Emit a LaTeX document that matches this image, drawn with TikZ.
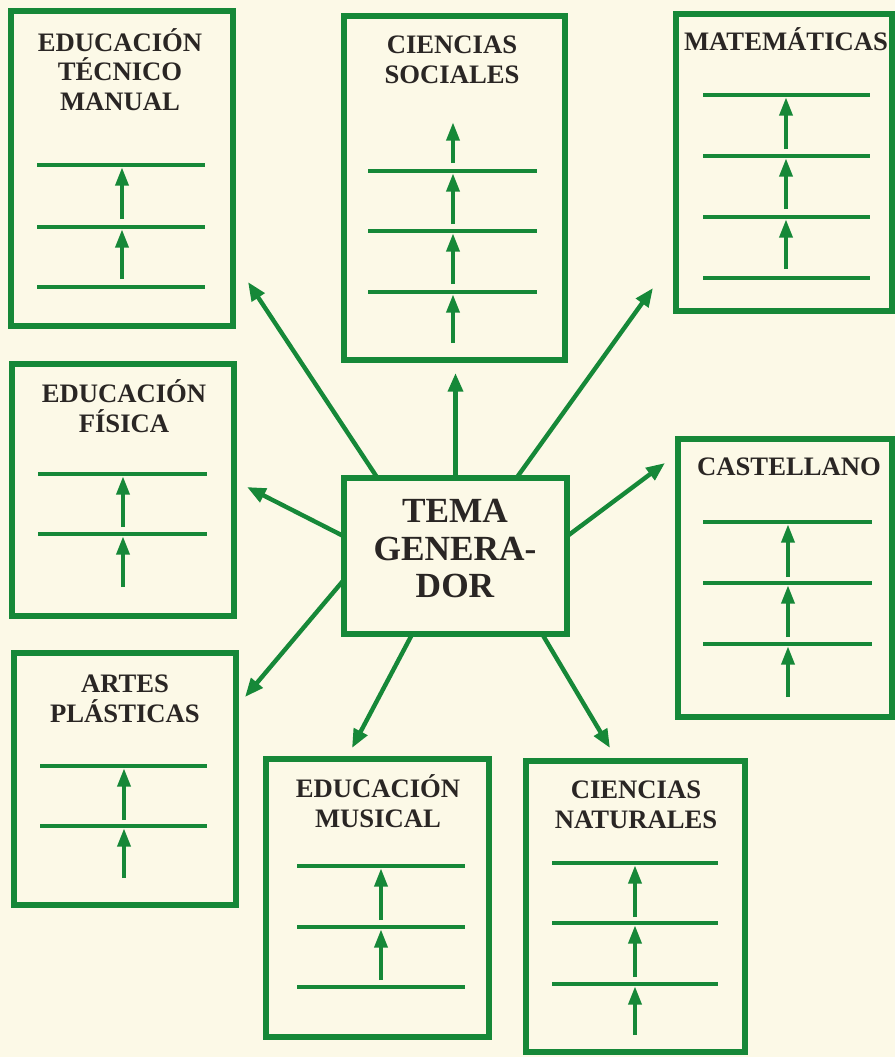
\documentclass[tikz,border=0pt]{standalone}
\usepackage{fontspec}
\setmainfont{Liberation Serif}
\usetikzlibrary{arrows.meta}
\definecolor{grn}{RGB}{22,136,56}
\definecolor{paper}{RGB}{252,249,231}
\definecolor{ink}{RGB}{42,38,36}
\newcommand\mybox[5]{\node[subj, minimum width={(#4-#2)*0.75pt}, minimum height={(#5-#3)*0.75pt}] (#1) at ({(#2+#4)/2},{(#3+#5)/2}) {};}
\newcommand\myrung[3]{\draw[rungline] (#1,#3) -- (#2,#3);}
\newcommand\myup[3]{\draw[uparrow] (#1,#2) -- (#1,#3);}
\begin{document}
\begin{tikzpicture}[x=0.75pt,y=-0.75pt,
  subj/.style={draw=grn, line width=3.8pt, inner sep=0pt, outer sep=0pt},
  rungline/.style={draw=grn, line width=3.3pt},
  uparrow/.style={draw=grn, line width=3.3pt, -{Triangle[length=14pt,width=9.5pt]}},
  link/.style={draw=grn, line width=3.3pt, -{Triangle[length=14pt,width=11pt]}},
  ttl/.style={font=\fontsize{20}{22}\selectfont\bfseries, text=ink, anchor=base, inner sep=0pt},
  big/.style={font=\fontsize{26.5}{28}\selectfont\bfseries, text=ink, anchor=base, inner sep=0pt}]
\fill[paper] (0,0) rectangle (895,1057);
\useasboundingbox (0,0) rectangle (895,1057);

% boxes
\mybox{tm}{11}{11}{233}{326}
\mybox{cs}{344}{16}{565}{360}
\mybox{mat}{676}{14}{892}{311}
\mybox{ef}{12}{364}{234}{616}
\mybox{cast}{678}{439}{892}{717}
\mybox{ap}{14}{653}{236}{905}
\mybox{em}{266}{759}{489}{1037}
\mybox{cn}{526}{761}{745}{1052}
\mybox{tema}{344}{478}{567}{634}

% titles
\node[ttl] (tm1) at (120,51) {EDUCACIÓN};
\node[ttl] (tm2) at (120,80) {TÉCNICO};
\node[ttl] (tm3) at (120,110) {MANUAL};
\node[ttl] (cs1) at (452,53) {CIENCIAS};
\node[ttl] (cs2) at (452,83) {SOCIALES};
\node[ttl] (mat1) at (786,50) {MATEMÁTICAS};
\node[ttl] (ef1) at (124,402) {EDUCACIÓN};
\node[ttl] (ef2) at (124,432) {FÍSICA};
\node[ttl] (cast1) at (789,475) {CASTELLANO};
\node[ttl] (ap1) at (125,692) {ARTES};
\node[ttl] (ap2) at (125,722) {PLÁSTICAS};
\node[ttl] (em1) at (378,797) {EDUCACIÓN};
\node[ttl] (em2) at (378,827) {MUSICAL};
\node[ttl] (cn1) at (636,798) {CIENCIAS};
\node[ttl] (cn2) at (636,828) {NATURALES};
\node[big] (tema1) at (455,522) {TEMA};
\node[big] (tema2) at (455,560) {GENERA-};
\node[big] (tema3) at (455,597) {DOR};

% inner ladders
\myrung{37}{205}{165}\myrung{37}{205}{227}\myrung{37}{205}{287}
\myup{122}{279}{229}\myup{122}{219}{167}

\myrung{368}{537}{171}\myrung{368}{537}{231}\myrung{368}{537}{292}
\myup{453}{343}{294}\myup{453}{284}{233}\myup{453}{224}{173}\myup{453}{163}{122}

\myrung{703}{870}{95}\myrung{703}{870}{156}\myrung{703}{870}{217}\myrung{703}{870}{278}
\myup{786}{269}{219}\myup{786}{209}{158}\myup{786}{149}{97}

\myrung{38}{207}{474}\myrung{38}{207}{534}
\myup{123}{587}{536}\myup{123}{527}{476}

\myrung{703}{872}{522}\myrung{703}{872}{583}\myrung{703}{872}{644}
\myup{788}{697}{646}\myup{788}{637}{585}\myup{788}{577}{524}

\myrung{40}{207}{766}\myrung{40}{207}{826}
\myup{124}{878}{828}\myup{124}{820}{768}

\myrung{297}{465}{866}\myrung{297}{465}{927}\myrung{297}{465}{987}
\myup{381}{980}{929}\myup{381}{920}{868}

\myrung{552}{718}{863}\myrung{552}{718}{923}\myrung{552}{718}{984}
\myup{635}{1035}{986}\myup{635}{977}{925}\myup{635}{917}{865}

% connector ends
\coordinate (etm) at (248,282);
\coordinate (ecs) at (455.5,373);
\coordinate (emat) at (653,288);
\coordinate (eef) at (247,487);
\coordinate (ecast) at (665,463);
\coordinate (eap) at (245,697);
\coordinate (eem) at (352,748);
\coordinate (ecn) at (610,748);

\draw[link] (tema.135) -- (etm);
\draw[link] (tema.90) -- (ecs);
\draw[link] (tema.52) -- (emat);
\draw[link] (tema.170) -- (eef);
\draw[link] (tema.10) -- (ecast);
\draw[link] (tema.192) -- (eap);
\draw[link] (tema.241) -- (eem);
\draw[link] (tema.318) -- (ecn);
\end{tikzpicture}
\end{document}
